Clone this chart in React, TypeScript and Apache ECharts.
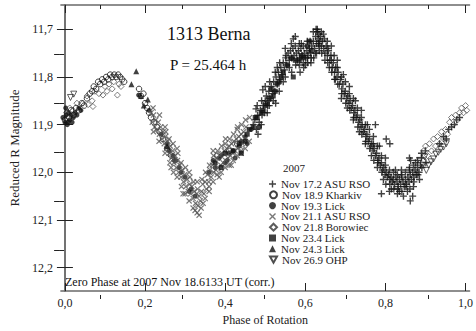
import React, { useEffect, useRef } from "react";
import * as echarts from "echarts";

const X_MAJOR = [0, 0.2, 0.4, 0.6, 0.8, 1.0];
const X_MINOR = [0.1, 0.3, 0.5, 0.7, 0.9];
const Y_MAJOR = [11.7, 11.8, 11.9, 12.0, 12.1, 12.2];
const Y_MINOR = [11.75, 11.85, 11.95, 12.05, 12.15];

const LEGEND_NAMES = [
  "Nov 17.2 ASU RSO",
  "Nov 18.9 Kharkiv",
  "Nov 19.3 Lick",
  "Nov 21.1 ASU RSO",
  "Nov 21.8 Borowiec",
  "Nov 23.4 Lick",
  "Nov 24.3 Lick",
  "Nov 26.9 OHP",
];

const asuRso17 = [
  [0.470,11.90],[0.474,11.89],[0.478,11.91],[0.481,11.88],[0.485,11.895],[0.488,11.87],[0.492,11.88],[0.495,11.86],[0.498,11.875],[0.500,11.85],
  [0.494,11.827],[0.477,11.867],
  [0.503,11.84],[0.506,11.86],[0.509,11.83],[0.512,11.845],[0.515,11.82],[0.518,11.835],[0.521,11.81],[0.524,11.83],[0.527,11.80],[0.530,11.815],[0.533,11.79],[0.536,11.805],[0.539,11.78],
  [0.542,11.795],[0.545,11.77],[0.548,11.785],[0.551,11.76],[0.554,11.775],[0.557,11.75],[0.560,11.765],[0.563,11.745],[0.566,11.76],[0.569,11.74],[0.572,11.755],[0.575,11.735],[0.578,11.75],[0.580,11.765],
  [0.583,11.745],[0.586,11.76],[0.589,11.74],[0.592,11.755],[0.595,11.77],[0.598,11.75],[0.601,11.76],[0.604,11.745],[0.607,11.755],[0.610,11.74],[0.613,11.75],[0.616,11.735],
  [0.620,11.725],[0.623,11.74],[0.626,11.715],[0.628,11.73],[0.630,11.705],[0.632,11.72],[0.634,11.71],[0.636,11.725],[0.638,11.715],[0.640,11.735],[0.643,11.725],[0.646,11.74],
  [0.649,11.75],[0.652,11.735],[0.655,11.755],[0.658,11.745],[0.661,11.765],[0.664,11.755],[0.667,11.78],[0.670,11.77],[0.673,11.79],[0.676,11.78],[0.679,11.80],[0.682,11.79],[0.685,11.815],[0.688,11.805],[0.691,11.825],[0.694,11.815],[0.697,11.835],[0.700,11.83],
  [0.703,11.845],[0.706,11.84],[0.709,11.855],[0.712,11.85],[0.715,11.865],[0.718,11.86],[0.721,11.875],[0.724,11.87],[0.727,11.885],[0.730,11.88],[0.733,11.895],[0.736,11.89],[0.739,11.905],[0.742,11.90],[0.745,11.915],[0.748,11.91],[0.751,11.925],[0.754,11.92],[0.757,11.935],
  [0.775,11.90],[0.802,11.93],[0.811,11.94],[0.860,11.97],[0.863,11.975],
  [0.760,11.93],[0.763,11.945],[0.766,11.94],[0.769,11.955],[0.772,11.95],[0.775,11.965],[0.778,11.96],[0.781,11.975],[0.784,11.97],[0.787,11.985],[0.790,11.98],[0.793,11.995],[0.796,11.99],[0.799,12.005],[0.802,12.00],[0.805,12.01],[0.808,12.005],[0.811,12.015],[0.814,12.01],[0.817,12.02],
  [0.820,12.015],[0.823,12.025],[0.826,12.01],[0.829,12.02],[0.832,12.03],[0.835,12.015],[0.838,12.025],[0.841,12.01],[0.844,12.02],[0.847,12.03],[0.850,12.015],[0.853,12.025],[0.856,12.01],[0.859,12.02],[0.862,12.005],[0.865,12.015],[0.868,12.0],[0.871,12.01],[0.874,11.995],[0.877,12.005],
  [0.790,12.045],[0.810,12.04],[0.830,12.045],[0.845,12.05],[0.862,12.06],[0.868,12.05],
  [0.880,11.99],[0.884,12.0],[0.888,11.985],
  [0.50,11.82],[0.505,11.875],[0.52,11.85],[0.53,11.78],[0.545,11.81],[0.55,11.74],[0.56,11.78],[0.57,11.72],[0.585,11.775],[0.59,11.73],[0.60,11.775],[0.605,11.725],[0.615,11.76],[0.625,11.75],[0.63,11.70],[0.635,11.745],[0.645,11.71],[0.655,11.725],[0.66,11.78],[0.665,11.735],[0.675,11.805],[0.68,11.765],[0.69,11.845],[0.695,11.795],[0.705,11.865],[0.71,11.82],[0.72,11.89],[0.725,11.85],[0.735,11.915],[0.74,11.87],[0.75,11.94],[0.755,11.90],[0.765,11.965],[0.77,11.925],[0.78,11.99],[0.785,11.945],[0.795,12.015],[0.80,11.97],[0.815,12.035],[0.825,11.995],[0.835,12.04],[0.84,11.995],[0.855,12.04],[0.86,11.99],[0.87,12.03],[0.875,11.98],[0.885,12.015],[0.89,11.97],
  [0.935,11.94],[0.945,11.925],[0.952,11.93],[0.958,11.91],[0.965,11.905],[0.972,11.9],[0.978,11.89],[0.985,11.885],
  [0.48,11.86],[0.482,11.92],[0.49,11.90],[0.491,11.85],[0.51,11.86],[0.511,11.81],[0.525,11.79],[0.526,11.855],[0.535,11.83],[0.536,11.77],[0.55,11.80],[0.552,11.755],[0.565,11.73],[0.566,11.79],[0.575,11.715],[0.576,11.775],[0.585,11.73],[0.587,11.79],[0.595,11.735],[0.596,11.78],[0.605,11.76],[0.606,11.77],[0.612,11.725],[0.614,11.77],[0.62,11.705],[0.621,11.76],[0.627,11.70],[0.628,11.75],[0.633,11.73],[0.634,11.735],[0.64,11.705],[0.641,11.75],[0.648,11.72],[0.649,11.765],[0.655,11.74],[0.656,11.77],
  [0.665,11.765],[0.666,11.79],[0.672,11.755],[0.673,11.805],[0.68,11.78],[0.681,11.815],[0.69,11.80],[0.691,11.835],[0.70,11.81],[0.701,11.855],[0.71,11.835],[0.711,11.87],[0.72,11.845],[0.721,11.885],[0.73,11.865],[0.731,11.905],[0.74,11.885],[0.741,11.92],[0.75,11.90],[0.751,11.935],[0.76,11.91],[0.761,11.95],[0.77,11.94],[0.771,11.975],[0.78,11.945],[0.781,11.98],[0.79,11.965],[0.791,12.0],[0.80,11.985],[0.801,12.025],
  [0.81,11.995],[0.811,12.025],[0.82,12.0],[0.821,12.035],[0.83,12.005],[0.831,12.035],[0.84,12.005],[0.841,12.04],[0.85,12.0],[0.851,12.03],[0.86,11.995],[0.861,12.035],[0.87,11.985],[0.871,12.02],[0.88,11.975],[0.881,12.005],[0.89,11.96],[0.891,11.99],[0.90,11.955],[0.901,11.98],
];

const kharkiv = [
  [0.000,11.89],[0.005,11.875],[0.010,11.885],[0.015,11.87],[0.022,11.88],[0.028,11.865],[0.035,11.87],[0.042,11.855],[0.048,11.86],[0.055,11.845],[0.062,11.835],[0.068,11.83],[0.072,11.82],[0.078,11.825],[0.083,11.81],[0.088,11.815],[0.093,11.805],[0.098,11.81],[0.103,11.80],[0.108,11.805],[0.113,11.795],[0.118,11.80],[0.123,11.795],[0.128,11.80],[0.133,11.795],[0.138,11.80],[0.143,11.805],[0.148,11.81],
  [0.185,11.825],[0.19,11.84],[0.196,11.835],[0.20,11.855],[0.205,11.865],[0.21,11.875],[0.215,11.885],[0.222,11.895],[0.23,11.905],[0.236,11.915],[0.245,11.93],[0.255,11.95],[0.265,11.965],[0.275,11.975],
  [0.38,11.965],[0.41,11.955],[0.43,11.94],
];

const lick19 = [
  [-0.005,11.885],[0.000,11.895],[0.003,11.88],[0.006,11.9],[0.009,11.875],[0.012,11.89],[0.015,11.88],[0.018,11.895],[0.021,11.885],[0.025,11.875],[0.03,11.88],[0.035,11.865],[0.04,11.87],[0.002,11.865],[0.008,11.895],
  [0.184,11.838],[0.21,11.87],
  [0.24,11.92],[0.255,11.94],[0.27,11.965],[0.285,11.99],[0.30,12.01],[0.315,12.035],[0.36,12.0],[0.375,11.99],[0.39,11.965],[0.405,11.975],[0.42,11.955],[0.435,11.945],[0.45,11.925],[0.465,11.91],
  [0.37,11.975],[0.385,11.97],[0.40,11.98],[0.41,11.96],[0.425,11.97],[0.44,11.935],[0.455,11.94],[0.325,12.05],[0.31,12.04],[0.29,12.0],[0.275,11.975],[0.26,11.955],
];

const asuRso21 = [
  [0.215,11.875],[0.218,11.895],[0.221,11.88],[0.224,11.905],[0.227,11.89],[0.230,11.91],[0.233,11.895],[0.236,11.92],[0.239,11.905],[0.242,11.93],[0.245,11.915],[0.248,11.94],[0.251,11.925],[0.254,11.95],[0.257,11.935],[0.260,11.96],[0.263,11.945],[0.266,11.97],[0.269,11.955],[0.272,11.98],[0.275,11.965],[0.278,11.99],[0.281,11.975],[0.284,12.0],[0.287,11.985],[0.290,12.01],[0.293,11.995],[0.296,12.02],[0.299,12.005],[0.302,12.03],[0.305,12.015],[0.308,12.04],[0.311,12.025],[0.314,12.045],[0.317,12.03],[0.320,12.055],[0.323,12.04],[0.326,12.065],[0.329,12.045],[0.332,12.07],[0.335,12.05],[0.338,12.06],
  [0.341,12.04],[0.344,12.025],[0.347,12.045],[0.350,12.02],[0.353,12.035],[0.356,12.005],[0.359,12.02],[0.362,11.995],[0.365,12.01],[0.368,11.985],[0.371,12.0],[0.374,11.975],[0.377,11.995],[0.380,11.97],[0.383,11.99],[0.386,11.965],[0.389,11.985],[0.392,11.96],[0.395,11.98],[0.398,11.955],[0.401,11.975],[0.404,11.95],[0.407,11.97],[0.410,11.945],[0.413,11.965],[0.416,11.94],[0.419,11.96],[0.422,11.935],[0.425,11.955],[0.428,11.93],[0.431,11.95],[0.434,11.925],[0.437,11.945],[0.440,11.92],[0.443,11.94],[0.446,11.915],[0.449,11.93],[0.452,11.905],
  [0.25,11.905],[0.265,11.99],[0.28,11.95],[0.295,12.045],[0.31,12.0],[0.325,12.08],[0.33,12.02],[0.345,12.065],[0.36,12.04],[0.37,11.955],[0.385,12.01],[0.40,11.94],[0.415,11.985],[0.43,11.91],[0.44,11.955],
  [0.22,11.865],[0.221,11.915],[0.235,11.935],[0.236,11.88],[0.25,11.96],[0.252,11.915],[0.26,11.93],[0.262,11.98],[0.27,11.94],[0.271,12.0],[0.28,12.01],[0.282,11.96],[0.29,11.98],[0.291,12.03],[0.30,12.045],[0.301,11.99],[0.31,12.06],[0.312,12.01],[0.32,12.075],[0.321,12.02],[0.33,12.085],[0.331,12.035],[0.335,12.09],
  [0.34,12.075],[0.342,12.015],[0.35,12.055],[0.351,12.0],[0.36,12.03],[0.361,11.985],[0.37,12.02],[0.371,11.965],[0.38,12.005],[0.381,11.955],[0.39,12.0],[0.391,11.945],[0.40,11.99],[0.401,11.93],[0.41,11.985],[0.411,11.93],[0.42,11.975],[0.421,11.92],[0.43,11.965],[0.431,11.905],[0.44,11.96],[0.441,11.90],[0.45,11.95],[0.451,11.89],[0.46,11.935],[0.461,11.885],
];

const borowiec = [
  [0.005,11.875],[0.012,11.865],[0.02,11.87],[0.03,11.855],[0.045,11.855],[0.055,11.84],[0.058,11.858],[0.068,11.85],[0.07,11.862],[0.075,11.83],[0.085,11.835],[0.095,11.838],[0.1,11.82],[0.105,11.83],[0.11,11.815],[0.118,11.825],[0.122,11.81],[0.131,11.838],[0.135,11.815],[0.14,11.82],
  [0.895,11.955],[0.90,11.945],[0.905,11.965],[0.91,11.94],[0.915,11.955],[0.92,11.93],[0.925,11.945],[0.93,11.925],[0.935,11.94],[0.94,11.915],[0.945,11.93],[0.95,11.91],[0.955,11.92],[0.96,11.895],[0.965,11.885],[0.97,11.9],[0.975,11.88],[0.98,11.89],[0.985,11.875],[0.99,11.865],[0.995,11.875],[1.0,11.86],[1.003,11.87],
];

const lick23 = [
  [0.375,11.98],[0.39,11.99],[0.40,11.96],[0.42,11.955],[0.435,11.94],[0.45,11.935],[0.46,11.91],[0.47,11.905],[0.48,11.885],[0.49,11.875],[0.50,11.86],[0.51,11.845],[0.52,11.84],[0.53,11.815],[0.54,11.80],[0.555,11.775],[0.565,11.76],[0.57,11.80],[0.575,11.765],[0.585,11.765],[0.595,11.76],[0.605,11.735],[0.61,11.725],
  [0.44,11.96],[0.455,11.92],[0.475,11.885],[0.485,11.905],[0.495,11.87],[0.505,11.855],[0.515,11.825],[0.525,11.83],[0.535,11.81],[0.545,11.79],[0.615,11.745],[0.59,11.755],
];

const lick24 = [
  [0.166,11.815],[0.178,11.788],[0.19,11.84],[0.197,11.86],[0.207,11.847],[0.255,11.945],
];

const ohp = [
  [0.014,11.843],[0.022,11.836],[0.885,11.975],[0.893,11.985],[0.898,11.968],[0.902,11.996],[0.908,11.985],[0.914,11.978],[0.92,11.972],[0.926,11.962],[0.932,11.958],[0.938,11.952],[0.945,11.947],[0.952,11.94],
];

const FONT = "'Liberation Serif', 'Times New Roman', serif";
const PLUS = "path://M4,0H6V4H10V6H6V10H4V6H0V4H4Z";
const CROSS = "path://M1.4,0L5,3.6L8.6,0L10,1.4L6.4,5L10,8.6L8.6,10L5,6.4L1.4,10L0,8.6L3.6,5L0,1.4Z";
const DOWNTRI = "path://M0,0H10L5,9Z";
const OPEN = "rgba(255,255,255,0)";

export default function App() {
  const ref = useRef<HTMLDivElement>(null);
  useEffect(() => {
    if (!ref.current) return;
    const chart = echarts.init(ref.current, null, { renderer: "svg" });
    const fmt = (v: number) => v.toFixed(1).replace(".", ",");
    const X_MIN = -0.01, X_MAX = 1.01, Y_MIN = 11.649, Y_MAX = 12.249;
    const gridPos = { left: 55, top: 5, right: 3, bottom: 32 };
    const lineStyle = { color: "#6a6a6a", width: 1.5 };
    const tickStyle = { color: "#222", width: 1 };
    const mkX = (grid: number, pos: string, major: boolean, labels: boolean, line: boolean) => ({
      type: "value", gridIndex: grid, position: pos, min: X_MIN, max: X_MAX,
      axisLine: { show: line, lineStyle },
      axisTick: { show: true, inside: true, length: major ? 8 : 4, customValues: major ? X_MAJOR : X_MINOR, lineStyle: tickStyle },
      axisLabel: labels
        ? { show: true, customValues: X_MAJOR, formatter: fmt, margin: 6, fontSize: 12, fontFamily: FONT, color: "#222" }
        : { show: false },
      splitLine: { show: false },
      ...(labels ? { name: "Phase of Rotation", nameLocation: "middle", nameGap: 23, nameTextStyle: { fontSize: 12, fontFamily: FONT, color: "#222" } } : {}),
    });
    const mkY = (grid: number, pos: string, major: boolean, labels: boolean, line: boolean) => ({
      type: "value", gridIndex: grid, position: pos, min: Y_MIN, max: Y_MAX, inverse: true,
      axisLine: { show: line, lineStyle },
      axisTick: { show: true, inside: true, length: major ? 8 : 5, customValues: major ? Y_MAJOR : Y_MINOR, lineStyle: tickStyle },
      axisLabel: labels
        ? { show: true, customValues: Y_MAJOR, formatter: fmt, margin: 8, fontSize: 12, fontFamily: FONT, color: "#222" }
        : { show: false },
      splitLine: { show: false },
      ...(labels ? { name: "Reduced R Magnitude", nameLocation: "middle", nameGap: 25, nameTextStyle: { fontSize: 13, fontFamily: FONT, color: "#222" } } : {}),
    });
    const sc = (name: string, data: number[][], symbol: string, size: number, itemStyle: any) => ({
      type: "scatter", name, data, symbol, symbolSize: size, itemStyle, clip: false,
      xAxisIndex: 0, yAxisIndex: 0,
    });
    const legends = LEGEND_NAMES.map((n, i) => ({
      data: [n],
      orient: "vertical",
      left: 269,
      top: 178.5 + i * 10.8,
      padding: 0,
      itemWidth: 7,
      itemHeight: 7,
      textStyle: { fontSize: 11, fontFamily: FONT, color: "#222" },
    }));
    chart.setOption({
      animation: false,
      backgroundColor: "#fff",
      grid: [gridPos, gridPos],
      xAxis: [
        mkX(0, "bottom", true, true, true),
        mkX(0, "top", true, false, true),
        mkX(1, "bottom", false, false, false),
        mkX(1, "top", false, false, false),
      ],
      yAxis: [
        mkY(0, "left", true, true, true),
        mkY(0, "right", true, false, true),
        mkY(1, "left", false, false, false),
        mkY(1, "right", false, false, false),
      ],
      legend: legends,
      graphic: [
        { type: "text", left: 167, top: 25, style: { text: "1313 Berna", fontSize: 18, fontFamily: FONT, fill: "#111" } },
        { type: "text", left: 170, top: 57, style: { text: "P = 25.464 h", fontSize: 15, fontFamily: FONT, fill: "#111" } },
        { type: "text", left: 283, top: 162, style: { text: "2007", fontSize: 11, fontFamily: FONT, fill: "#222" } },
        { type: "text", left: 65, top: 276, style: { text: "Zero Phase at 2007 Nov 18.6133 UT (corr.)", fontSize: 12, fontFamily: FONT, fill: "#111" } },
      ],
      series: [
        sc(LEGEND_NAMES[0], asuRso17, PLUS, 7, { color: "#111" }),
        sc(LEGEND_NAMES[1], kharkiv, "circle", 5.5, { color: OPEN, borderColor: "#111", borderWidth: 1 }),
        sc(LEGEND_NAMES[2], lick19, "circle", 5, { color: "#111" }),
        sc(LEGEND_NAMES[3], asuRso21, CROSS, 6, { color: "#555" }),
        sc(LEGEND_NAMES[4], borowiec, "diamond", 6, { color: OPEN, borderColor: "#333", borderWidth: 0.8 }),
        sc(LEGEND_NAMES[5], lick23, "rect", 5, { color: "#111" }),
        sc(LEGEND_NAMES[6], lick24, "triangle", 6, { color: "#111" }),
        sc(LEGEND_NAMES[7], ohp, DOWNTRI, 6, { color: OPEN, borderColor: "#222", borderWidth: 0.9 }),
        { type: "scatter", name: "_minor", data: [], xAxisIndex: 2, yAxisIndex: 2 },
      ],
    });
    return () => chart.dispose();
  }, []);
  return <div ref={ref} style={{ width: 476, height: 331, position: "fixed", left: 0, top: 0 }} />;
}
